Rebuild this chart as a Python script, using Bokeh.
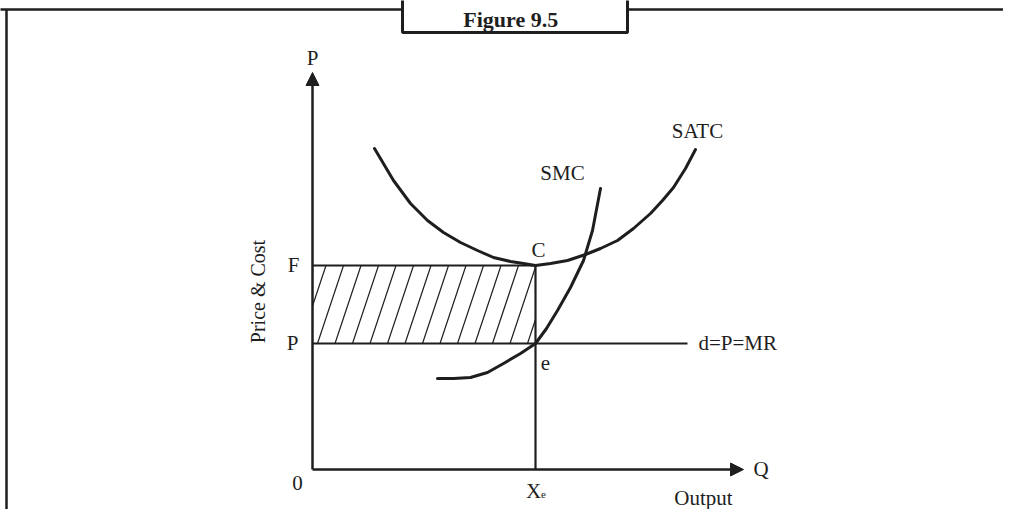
import numpy as np
from bokeh.plotting import figure
from bokeh.models import Range1d, Arrow, NormalHead
from bokeh.core.properties import value
from bokeh.embed import file_html
from bokeh.resources import INLINE

# ---- data (quantity, price/cost units) ----
SATC_Q = [62, 81, 98, 115, 131, 148, 165, 181, 198, 211, 223, 238, 255, 273, 288, 305, 321, 338, 350, 361, 373, 383]
SATC_P = [321, 289, 266, 249, 237, 227, 219, 212, 208, 206, 204, 206, 209, 215, 221, 229, 241, 256, 269, 282, 301, 320]
SMC_Q = [125, 141, 158, 175, 191, 208, 223, 234, 245, 258, 271, 280, 288]
SMC_P = [91, 91, 92, 97, 106, 116, 126, 141, 159, 182, 209, 239, 281]
XE = 223          # equilibrium output
PRICE = 126       # market price P (d = P = MR)
F_COST = 204      # average cost at Xe (F)
D_END = 375       # end of demand line
Q_MAX = 431       # length of output axis
P_MAX = 397       # length of price axis

INK = "#1e1e1e"
FONT = value("Liberation Serif")

p = figure(width=1003, height=509, output_backend="svg", toolbar_location=None,
           x_range=Range1d(-312, 691), y_range=Range1d(-40, 469),
           min_border=0, outline_line_color=None)
p.axis.visible = False
p.grid.visible = False
p.background_fill_color = "white"
p.border_fill_color = "white"

# ---- page frame and title box ----
p.segment(x0=[-320], y0=[460], x1=[710], y1=[460], line_color=INK, line_width=2.5)
p.segment(x0=[-306], y0=[460], x1=[-306], y1=[-60], line_color=INK, line_width=2.5)
p.quad(left=[90], right=[315], bottom=[437], top=[480], fill_color="white",
       line_color=INK, line_width=3)
p.text(x=[201], y=[450], text=["Figure  9.5"], text_font=FONT, text_font_style="bold",
       text_font_size="22px", text_align="center", text_baseline="middle", text_color=INK)

# ---- hatched loss rectangle ----
h = F_COST - PRICE
slope_dx = 26.0
spacing = 17.5
xs0, ys0, xs1, ys1 = [], [], [], []
for xb in np.arange(5 - 2 * spacing, XE, spacing):
    t0 = max(0.0, (0 - xb) / slope_dx)
    t1 = min(1.0, (XE - xb) / slope_dx)
    if t1 <= t0:
        continue
    xs0.append(xb + t0 * slope_dx); ys0.append(PRICE + t0 * h)
    xs1.append(xb + t1 * slope_dx); ys1.append(PRICE + t1 * h)
p.segment(x0=xs0, y0=ys0, x1=xs1, y1=ys1, line_color=INK, line_width=1.2)

# rectangle edges and guide lines
p.segment(x0=[0], y0=[F_COST], x1=[XE], y1=[F_COST], line_color=INK, line_width=2.2)
p.segment(x0=[0], y0=[PRICE], x1=[D_END], y1=[PRICE], line_color=INK, line_width=2.2)
p.segment(x0=[XE], y0=[0], x1=[XE], y1=[F_COST], line_color=INK, line_width=2.2)

# ---- cost curves ----
p.line(SATC_Q, SATC_P, line_color=INK, line_width=3, line_join="round", line_cap="round")
p.line(SMC_Q, SMC_P, line_color=INK, line_width=3, line_join="round", line_cap="round")

# ---- axes with arrows ----
p.add_layout(Arrow(x_start=0, y_start=0, x_end=0, y_end=P_MAX, line_color=INK, line_width=2.5,
                   end=NormalHead(size=13, fill_color=INK, line_color=INK, line_width=1)))
p.add_layout(Arrow(x_start=0, y_start=0, x_end=Q_MAX, y_end=0, line_color=INK, line_width=2.5,
                   end=NormalHead(size=13, fill_color=INK, line_color=INK, line_width=1)))

# ---- labels ----
def label(x, y, t, align="center", size="21px", angle=0):
    p.text(x=[x], y=[y], text=[t], text_font=FONT, text_font_size=size, text_align=align,
           text_baseline="middle", text_color=INK, angle=angle)

label(0, 412, "P")
label(-19, F_COST + 1, "F")
label(-20, PRICE + 1, "P")
label(-55, 178, "Price & Cost", size="20px", angle=np.pi / 2)
label(-15, -13, "0")
label(221, -21, "X")
label(231, -25, "e", size="11px")
label(391, -28, "Output")
label(441, 1, "Q", align="left")
label(386, PRICE + 1, "d=P=MR", align="left")
label(233, 107, "e")
label(226, 220, "C")
label(250, 297, "SMC")
label(385, 339, "SATC")

open("out.html", "w").write(file_html(p, INLINE))
